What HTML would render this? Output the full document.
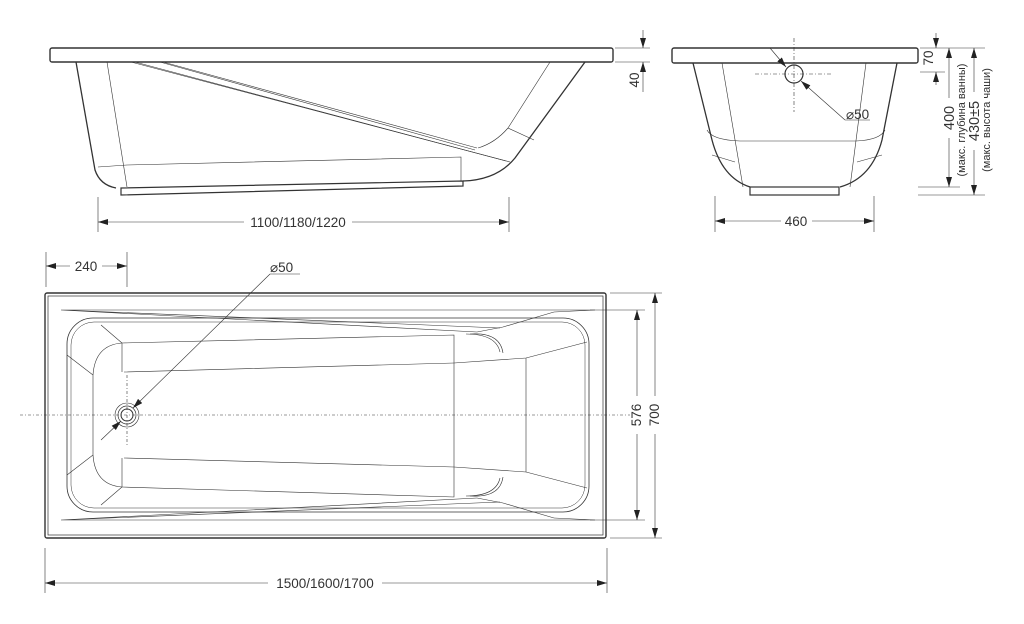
<!DOCTYPE html>
<html><head><meta charset="utf-8"><style>
html,body{margin:0;padding:0;background:#fff;width:1024px;height:624px;overflow:hidden}
svg{display:block}
text{font-family:"Liberation Sans",sans-serif;fill:#333}
</style></head><body>
<svg width="1024" height="624" viewBox="0 0 1024 624" xmlns="http://www.w3.org/2000/svg">
<defs>
<marker id="a" viewBox="0 0 10 6" refX="10" refY="3" markerWidth="10" markerHeight="6" markerUnits="userSpaceOnUse" orient="auto-start-reverse"><path d="M0,0L10,3L0,6z" fill="#222"/></marker>
</defs>
<g fill="none" stroke="#333" stroke-width="1">
<!-- SIDE VIEW -->
<rect x="50" y="48" width="563" height="14" rx="2" stroke-width="1.4"/>
<path d="M76,62 L95,170 Q100,185 116,188" stroke-width="1.3"/>
<path d="M585,62 L515,158 Q497,180 463,181" stroke-width="1.3"/>
<path d="M121,188 L463,181 L463,186 L121,195 Z" stroke-width="1.2"/>
<g stroke-width="0.6">
<path d="M107,62 L127,187"/>
<path d="M98,167 L127,165 L461,157 L461,181"/>
<path d="M131,62 L510,162"/>
<path d="M135,62 L506,161"/>
<path d="M163,62 L477,148"/>
<path d="M160,62 L475,150"/>
<path d="M550,62 L508,128 Q495,143 478,148"/>
<path d="M508,128 L534,140"/>
</g>
<!-- 40 dim -->
<g stroke-width="0.6"><path d="M615,48 L650,48 M615,62 L650,62"/><path d="M643,30 L643,48" marker-end="url(#a)"/><path d="M643,92 L643,62" marker-end="url(#a)"/></g>
<!-- 1100 dim -->
<g stroke-width="0.6"><path d="M98,197 L98,232 M509,197 L509,232"/><path d="M244,222 L98,222" marker-end="url(#a)"/><path d="M352,222 L509,222" marker-end="url(#a)"/></g>

<!-- END VIEW -->
<rect x="672" y="48" width="246" height="15" rx="2" stroke-width="1.4"/>
<path d="M693,63 L712,140 Q722,178 750,187" stroke-width="1.3"/>
<path d="M897,63 L882,140 Q872,178 840,187" stroke-width="1.3"/>
<rect x="750" y="187" width="89" height="8" stroke-width="1.2"/>
<g stroke-width="0.6">
<path d="M722,63 L743,187 M866,63 L850,187"/>
<path d="M707,130 Q712,140 740,141 L856,141 Q880,140 885,130"/>
<path d="M712,155 L735,162 M882,155 L857,162"/>
</g>
<circle cx="794" cy="74" r="9" stroke-width="1.2"/>
<g stroke-width="0.6" stroke-dasharray="4,2,1,2"><path d="M794,38 L794,112 M755,74 L833,74"/></g>
<g stroke-width="0.6"><path d="M770,48 L786,67" marker-end="url(#a)"/><path d="M845,120 L801,81" marker-end="url(#a)"/><path d="M845,120 L870,120"/></g>
<!-- 460 -->
<g stroke-width="0.6"><path d="M715,196 L715,232 M874,196 L874,232"/><path d="M781,221 L715,221" marker-end="url(#a)"/><path d="M812,221 L874,221" marker-end="url(#a)"/></g>
<!-- 70/400/430 -->
<g stroke-width="0.6">
<path d="M920,48 L985,48 M920,72 L945,72 M918,187 L960,187 M918,195 L985,195"/>
<path d="M936,33 L936,48" marker-end="url(#a)"/><path d="M936,85 L936,72" marker-end="url(#a)"/>
<path d="M949,98 L949,48" marker-end="url(#a)"/><path d="M949,138 L949,187" marker-end="url(#a)"/>
<path d="M974,92 L974,48" marker-end="url(#a)"/><path d="M974,150 L974,195" marker-end="url(#a)"/>
</g>

<!-- TOP VIEW -->
<rect x="45" y="293" width="561" height="245" rx="2" stroke-width="1.4"/>
<rect x="48" y="296" width="555" height="239" stroke-width="0.7"/>
<rect x="67" y="318" width="522" height="194" rx="26" stroke-width="0.8"/>
<rect x="71" y="322" width="514" height="186" rx="23" stroke-width="0.5"/>
<g stroke-width="0.6">
<path d="M61,310 L595,310 M61,310 L477,332 M61,310 L500,328 M595,310 L554,312"/>
<path d="M61,520 L595,520 M61,520 L477,498 M61,520 L500,502 M595,520 L554,518"/>
<path d="M67,355 L93,375 L93,455 L67,475"/>
<path d="M101,325 L122,343 L122,372 M101,505 L122,487 L122,458"/>
<path d="M93,375 Q95,345 122,343 M93,455 Q95,485 122,487"/>
<path d="M122,343 L454,335 L454,497 L122,487"/>
<path d="M124,372 L454,363 M124,458 L454,467"/>
<path d="M454,363 L526,358 L587,342 M454,467 L526,472 L587,488"/>
<path d="M477,332 L503,327 L554,312 M477,498 L503,503 L554,518"/>
<path d="M526,358 L526,472"/>
<path d="M470,334 Q500,332 503,353 M470,496 Q500,498 503,477"/>
<path d="M466,334 Q496,334 500,352 M466,496 Q496,496 500,478"/>
</g>
<circle cx="127" cy="415" r="6" stroke-width="1"/>
<circle cx="127" cy="415" r="9" stroke-width="0.7"/>
<circle cx="127" cy="415" r="12" stroke-width="0.6"/>
<g stroke-width="0.6" stroke-dasharray="3,2,1,2"><path d="M20,415 L630,415 M127,375 L127,445"/></g>
<g stroke-width="0.6"><path d="M270,274 L300,274"/><path d="M270,274 L133,408" marker-end="url(#a)"/><path d="M101,440 L121,421" marker-end="url(#a)"/></g>
<!-- 240 -->
<g stroke-width="0.6"><path d="M46,252 L46,287 M127,252 L127,287"/><path d="M70,266 L46,266" marker-end="url(#a)"/><path d="M102,266 L127,266" marker-end="url(#a)"/></g>
<!-- 1500 -->
<g stroke-width="0.6"><path d="M45,548 L45,593 M607,548 L607,593"/><path d="M268,583 L45,583" marker-end="url(#a)"/><path d="M382,583 L607,583" marker-end="url(#a)"/></g>
<!-- 576 / 700 -->
<g stroke-width="0.6">
<path d="M590,310 L645,310 M590,520 L645,520 M610,293 L662,293 M610,538 L662,538"/>
<path d="M637,396 L637,310" marker-end="url(#a)"/><path d="M637,434 L637,520" marker-end="url(#a)"/>
<path d="M655,396 L655,293" marker-end="url(#a)"/><path d="M655,434 L655,538" marker-end="url(#a)"/>
</g>
</g>

<g font-size="13.5">
<text x="298" y="227" text-anchor="middle">1100/1180/1220</text>
<text x="796" y="226" text-anchor="middle">460</text>
<text x="86" y="271" text-anchor="middle">240</text>
<text x="270" y="272">⌀50</text>
<text x="846" y="119">⌀50</text>
<text x="325" y="588" text-anchor="middle">1500/1600/1700</text>
<text transform="translate(639,80) rotate(-90)" text-anchor="middle">40</text>
<text transform="translate(933,58) rotate(-90)" text-anchor="middle">70</text>
<text transform="translate(641,415) rotate(-90)" text-anchor="middle">576</text>
<text transform="translate(659,415) rotate(-90)" text-anchor="middle">700</text>
<text transform="translate(954,118) rotate(-90)" text-anchor="middle" font-size="14.5">400</text>
<text transform="translate(979,121) rotate(-90)" text-anchor="middle" font-size="14.5">430±5</text>
<text transform="translate(965,120) rotate(-90)" text-anchor="middle" font-size="11">(макс. глубина ванны)</text>
<text transform="translate(990,120) rotate(-90)" text-anchor="middle" font-size="11">(макс. высота чаши)</text>
</g>
</svg>
</body></html>
